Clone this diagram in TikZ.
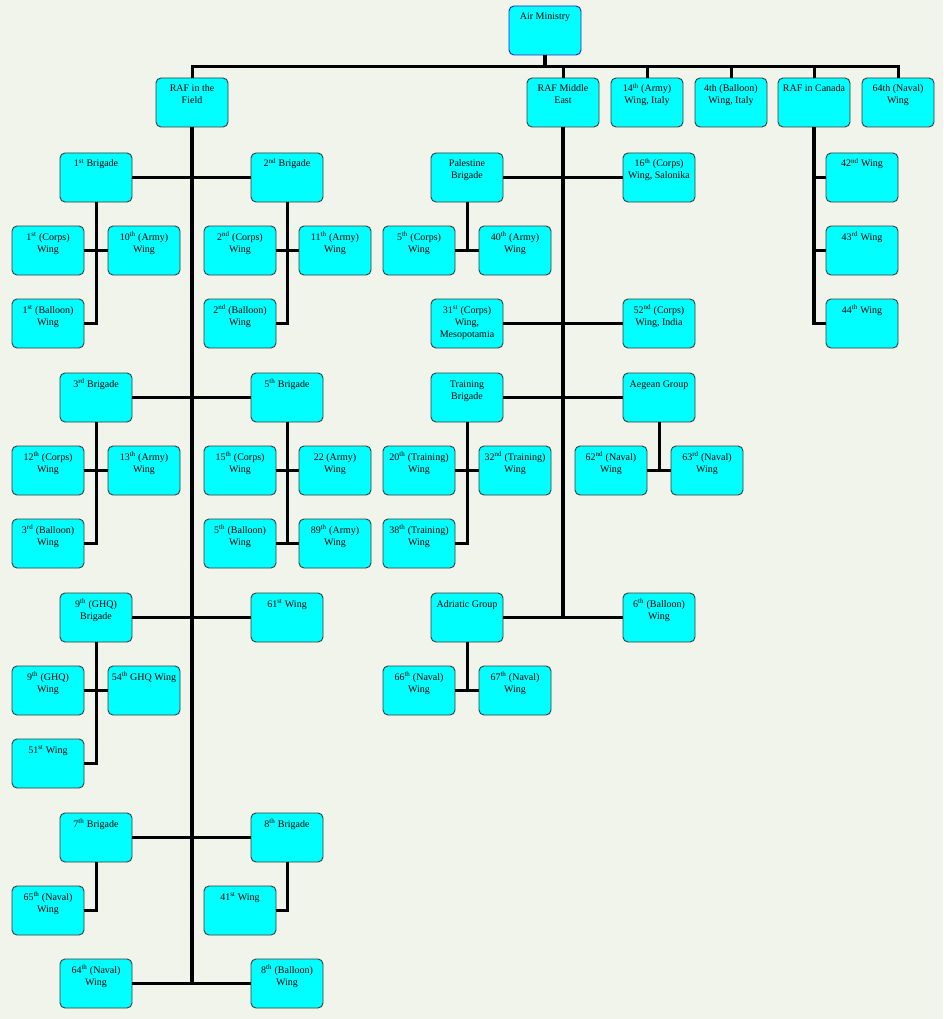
\documentclass[tikz,border=0pt]{standalone}
\usepackage{fontspec}
\setmainfont{Liberation Serif}
\definecolor{bgc}{RGB}{240,244,234}
\definecolor{boxfill}{RGB}{0,255,255}
\definecolor{boxedge}{RGB}{60,60,60}
\definecolor{amedge}{RGB}{40,40,200}
\tikzset{
  box/.style={draw=boxedge, line width=0.9pt, fill=boxfill, rounded corners=5pt,
    minimum width=72pt, minimum height=49pt, inner sep=0pt, outer sep=0pt},
  txt/.style={anchor=base, inner sep=0pt,
    font=\fontsize{10}{12}\selectfont},
  conn/.style={line width=3pt, black, line join=miter},
  spine/.style={line width=4pt, black, line join=miter}
}
\newcommand\bx[5][]{%
  \node[box,#1] (#2) at (#3+36,#4+24.5) {};
  \node[txt] (#2t) at (#3+36,#4+14) {\begin{tabular}[t]{@{}c@{}}#5\end{tabular}};
}
\newcommand\sps[1]{\textsuperscript{#1}}
\begin{document}
\begin{tikzpicture}[x=1pt,y=-1pt]
\fill[bgc] (0,0) rectangle (943,1019);
\useasboundingbox (0,0) rectangle (943,1019);
\coordinate (bar) at (0,67);
% ---------- top rows
\bx[draw=amedge]{am}{509}{6}{Air Ministry}
\bx{rif}{156}{78}{RAF in the\\Field}
\bx{rme}{527}{78}{RAF Middle\\East}
\bx{wa}{611}{78}{14\sps{th} (Army)\\Wing, Italy}
\bx{wb}{695}{78}{4th (Balloon)\\Wing, Italy}
\bx{rc}{778}{78}{RAF in Canada}
\bx{wc}{862}{78}{64th (Naval)\\Wing}
% ---------- RAF in the Field
\bx{b1}{60}{153}{1\sps{st} Brigade}
\bx{b2}{251}{153}{2\sps{nd} Brigade}
\bx{w1c}{12}{226}{1\sps{st} (Corps)\\Wing}
\bx{w10a}{108}{226}{10\sps{th} (Army)\\Wing}
\bx{w1b}{12}{299}{1\sps{st} (Balloon)\\Wing}
\bx{w2c}{204}{226}{2\sps{nd} (Corps)\\Wing}
\bx{w11a}{299}{226}{11\sps{th} (Army)\\Wing}
\bx{w2b}{204}{299}{2\sps{nd} (Balloon)\\Wing}
\bx{b3}{60}{373}{3\sps{rd} Brigade}
\bx{b5}{251}{373}{5\sps{th} Brigade}
\bx{w12c}{12}{446}{12\sps{th} (Corps)\\Wing}
\bx{w13a}{108}{446}{13\sps{th} (Army)\\Wing}
\bx{w3b}{12}{519}{3\sps{rd} (Balloon)\\Wing}
\bx{w15c}{204}{446}{15\sps{th} (Corps)\\Wing}
\bx{w22a}{299}{446}{22 (Army)\\Wing}
\bx{w5b}{204}{519}{5\sps{th} (Balloon)\\Wing}
\bx{w89a}{299}{519}{89\sps{th} (Army)\\Wing}
\bx{b9}{60}{593}{9\sps{th} (GHQ)\\Brigade}
\bx{w61}{251}{593}{61\sps{st} Wing}
\bx{w9g}{12}{666}{9\sps{th} (GHQ)\\Wing}
\bx{w54g}{108}{666}{54\sps{th} GHQ Wing}
\bx{w51}{12}{739}{51\sps{st} Wing}
\bx{b7}{60}{813}{7\sps{th} Brigade}
\bx{b8}{251}{813}{8\sps{th} Brigade}
\bx{w65n}{12}{886}{65\sps{th} (Naval)\\Wing}
\bx{w41}{204}{886}{41\sps{st} Wing}
\bx{w64n}{60}{959}{64\sps{th} (Naval)\\Wing}
\bx{w8b}{251}{959}{8\sps{th} (Balloon)\\Wing}
% ---------- RAF Middle East
\bx{pb}{431}{153}{Palestine\\Brigade}
\bx{w16c}{623}{153}{16\sps{th} (Corps)\\Wing, Salonika}
\bx{w5c}{383}{226}{5\sps{th} (Corps)\\Wing}
\bx{w40a}{479}{226}{40\sps{th} (Army)\\Wing}
\bx{w31c}{431}{299}{31\sps{st} (Corps)\\Wing,\\Mesopotamia}
\bx{w52c}{623}{299}{52\sps{nd} (Corps)\\Wing, India}
\bx{tb}{431}{373}{Training\\Brigade}
\bx{ag}{623}{373}{Aegean Group}
\bx{w20t}{383}{446}{20\sps{th} (Training)\\Wing}
\bx{w32t}{479}{446}{32\sps{nd} (Training)\\Wing}
\bx{w38t}{383}{519}{38\sps{th} (Training)\\Wing}
\bx{w62n}{575}{446}{62\sps{nd} (Naval)\\Wing}
\bx{w63n}{671}{446}{63\sps{rd} (Naval)\\Wing}
\bx{adg}{431}{593}{Adriatic Group}
\bx{w6b}{623}{593}{6\sps{th} (Balloon)\\Wing}
\bx{w66n}{383}{666}{66\sps{th} (Naval)\\Wing}
\bx{w67n}{479}{666}{67\sps{th} (Naval)\\Wing}
% ---------- RAF in Canada
\bx{w42}{826}{153}{42\sps{nd} Wing}
\bx{w43}{826}{226}{43\sps{rd} Wing}
\bx{w44}{826}{299}{44\sps{th} Wing}
% ================= connectors
% top bar
\draw[spine] (am.south) -- (am.south |- bar);
\draw[conn] (rif.north) -- (rif.north |- bar) -| (wc.north);
\foreach \n in {rme,wa,wb,rc} \draw[conn] (\n.north) -- (\n.north |- bar);
% RAF in the Field spine
\draw[spine] (rif.south) -- (rif.south |- w64n.east);
\draw[conn] (b1.east) -- (b2.west);
\draw[conn] (b3.east) -- (b5.west);
\draw[conn] (b9.east) -- (w61.west);
\draw[conn] (b7.east) -- (b8.west);
\draw[conn] (w64n.east) -- (w8b.west);
% brigade subtrees
\draw[conn] (b1.south) |- (w1b.east);
\draw[conn] (w1c.east) -- (w10a.west);
\draw[conn] (b2.south) |- (w2b.east);
\draw[conn] (w2c.east) -- (w11a.west);
\draw[conn] (b3.south) |- (w3b.east);
\draw[conn] (w12c.east) -- (w13a.west);
\draw[conn] (b5.south) -- (b5.south |- w5b.east);
\draw[conn] (w15c.east) -- (w22a.west);
\draw[conn] (w5b.east) -- (w89a.west);
\draw[conn] (b9.south) |- (w51.east);
\draw[conn] (w9g.east) -- (w54g.west);
\draw[conn] (b7.south) |- (w65n.east);
\draw[conn] (b8.south) |- (w41.east);
% RAF Middle East
\draw[spine] (rme.south) -- (rme.south |- adg.east);
\draw[conn] (pb.east) -- (w16c.west);
\draw[conn] (w31c.east) -- (w52c.west);
\draw[conn] (tb.east) -- (ag.west);
\draw[conn] (adg.east) -- (w6b.west);
\draw[conn] (pb.south) -- (pb.south |- w5c.east);
\draw[conn] (w5c.east) -- (w40a.west);
\draw[conn] (tb.south) |- (w38t.east);
\draw[conn] (w20t.east) -- (w32t.west);
\draw[conn] (ag.south) -- (ag.south |- w62n.east);
\draw[conn] (w62n.east) -- (w63n.west);
\draw[conn] (adg.south) -- (adg.south |- w66n.east);
\draw[conn] (w66n.east) -- (w67n.west);
% RAF in Canada
\draw[conn, line width=3.5pt] (rc.south) |- (w44.west);
\draw[conn] (rc.south |- w42.west) -- (w42.west);
\draw[conn] (rc.south |- w43.west) -- (w43.west);
\end{tikzpicture}
\end{document}
